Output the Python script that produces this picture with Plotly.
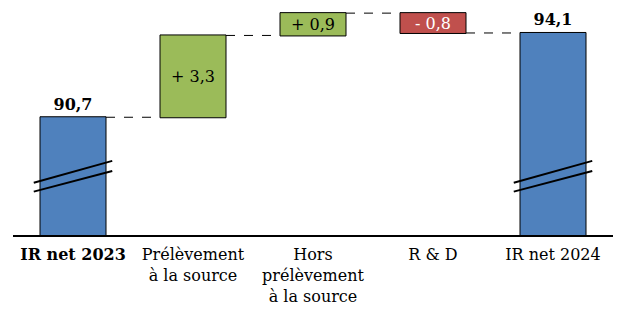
import plotly.graph_objects as go

categories = ["<b>IR net 2023</b>", "Prélèvement<br>à la source", "Hors<br>prélèvement<br>à la source", "R & D", "IR net 2024"]
measures = ["absolute", "relative", "relative", "relative", "total"]
values = [90.7, 3.3, 0.9, -0.8, 0]

def fr(v):
    return f"{abs(v):.1f}".replace(".", ",")

running = 0
labels = []
for m, v in zip(measures, values):
    if m == "absolute":
        running = v
        labels.append(f"<b>{fr(v)}</b>")
    elif m == "relative":
        running += v
        labels.append(("+ " if v >= 0 else "- ") + fr(v))
    else:
        labels.append(f"<b>{fr(running)}</b>")

text_pos = ["outside" if m != "relative" else "inside" for m in measures]
text_col = ["black", "black", "black", "white", "black"]

FONT = "DejaVu Serif"

fig = go.Figure(go.Waterfall(
    x=list(range(len(categories))),
    measure=measures,
    y=values,
    text=labels,
    textposition=text_pos,
    insidetextanchor="middle",
    textfont=dict(family=FONT, size=16, color=text_col),
    constraintext="none",
    cliponaxis=False,
    increasing=dict(marker=dict(color="#9BBB59", line=dict(color="black", width=1))),
    decreasing=dict(marker=dict(color="#C0504D", line=dict(color="black", width=1))),
    totals=dict(marker=dict(color="#4F81BD", line=dict(color="black", width=1))),
    connector=dict(line=dict(color="black", width=1, dash="dash")),
    hoverinfo="skip",
))

# axis-break marks on the full bars
shapes = []
for i, m in enumerate(measures):
    if m != "relative":
        for y0, y1 in [(88.06, 88.94), (87.70, 88.53)]:
            shapes.append(dict(type="line", xref="x", yref="y", x0=i - 0.327, x1=i + 0.327,
                               y0=y0, y1=y1, line=dict(color="black", width=2)))

fig.update_layout(
    width=626, height=321,
    margin=dict(l=13, r=13, t=0, b=86),
    plot_bgcolor="white", paper_bgcolor="white",
    waterfallgap=0.45,
    showlegend=False,
    shapes=shapes,
    font=dict(family=FONT, size=16, color="black"),
    xaxis=dict(range=[-0.5, 4.5], tickmode="array", tickvals=list(range(len(categories))),
               ticktext=categories, showline=True, linecolor="black", linewidth=1.5,
               showgrid=False, zeroline=False, ticks="", ticklabelstandoff=4,
               tickfont=dict(family=FONT, size=16)),
    yaxis=dict(range=[85.95, 95.43], visible=False, showgrid=False, zeroline=False),
)

fig.write_html("out.html")
